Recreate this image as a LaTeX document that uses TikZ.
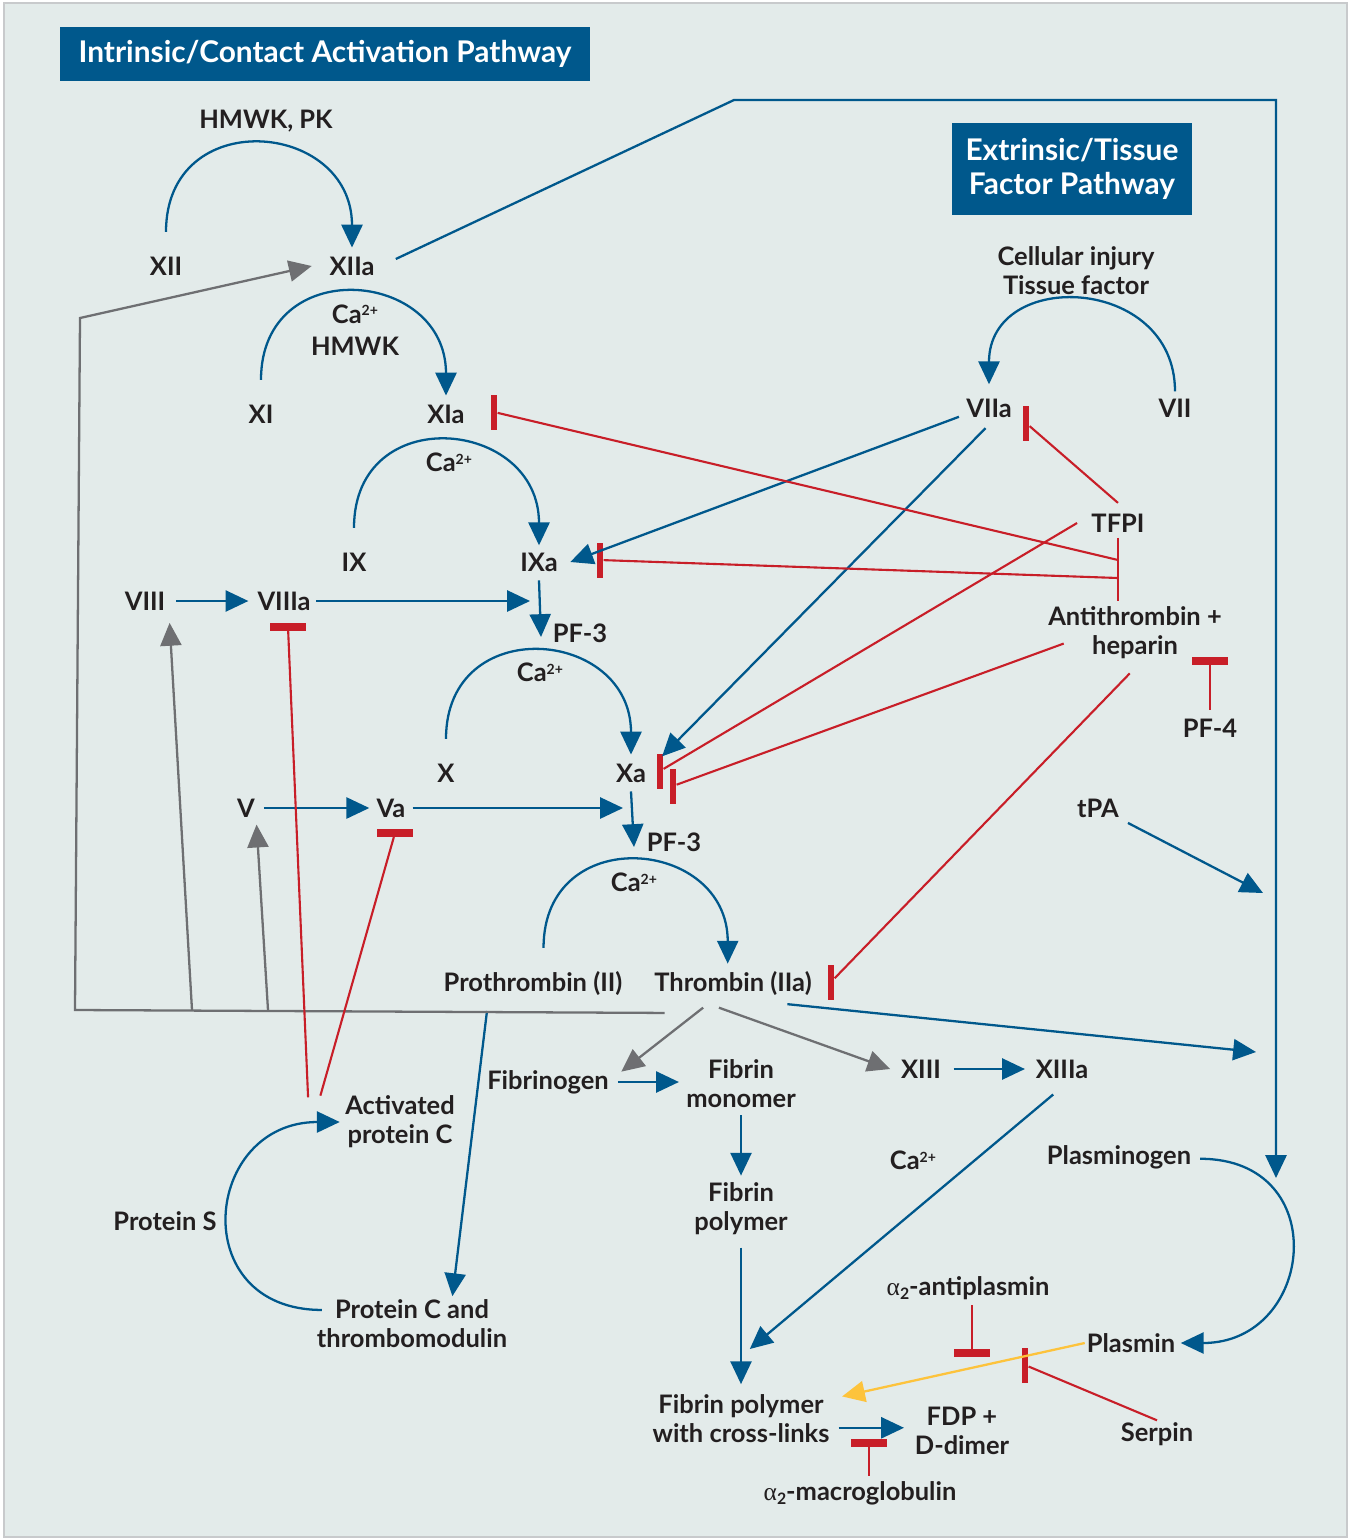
\documentclass[tikz,border=0pt]{standalone}
\usepackage{fontspec}
\setmainfont{Lato}
\newfontfamily\grkfont{Liberation Serif}
\usetikzlibrary{arrows.meta}

\definecolor{bgcol}{RGB}{227,235,234}
\definecolor{framecol}{RGB}{200,202,204}
\definecolor{cblue}{RGB}{0,88,140}
\definecolor{cred}{RGB}{200,30,40}
\definecolor{cgrey}{RGB}{110,111,114}
\definecolor{cyellow}{RGB}{253,195,60}
\definecolor{ctext}{RGB}{35,31,32}

\newcommand{\caion}{Ca\raisebox{0.55ex}{\fontsize{8}{8}\selectfont 2+}}
\newcommand{\alphatwo}{{\grkfont\mdseries α}\raisebox{-0.35ex}{\fontsize{9}{9}\selectfont 2}}

\begin{document}
\begin{tikzpicture}[
    x=0.02cm, y=-0.02cm,
    lbl/.style={font=\bfseries\fontsize{14.5}{16.4}\selectfont, text=ctext, align=center, inner sep=1pt},
    ttl/.style={fill=cblue, text=white, font=\bfseries\fontsize{17}{19.3}\selectfont, align=center, inner sep=0pt},
    act/.style={draw=cblue, line width=1.3pt, -{Triangle[length=13pt,width=12pt]}},
    fb/.style={draw=cgrey, line width=1.3pt, -{Triangle[length=13pt,width=12pt]}},
    lys/.style={draw=cyellow, line width=1.3pt, -{Triangle[length=13pt,width=12pt]}},
    inh/.style={draw=cred, line width=1.2pt},
    vbar/.style={fill=cred, inner sep=0pt, minimum width=0.13cm, minimum height=0.7cm},
    hbar/.style={fill=cred, inner sep=0pt, minimum width=0.72cm, minimum height=0.15cm}
  ]
  \useasboundingbox (0,0) rectangle (1352,1539);
  \fill[white] (0,0) rectangle (1352,1539);
  \draw[framecol, fill=bgcol, line width=0.8pt] (4,3) rectangle (1347,1537);

  \node[ttl, minimum width=10.6cm, minimum height=1.08cm] (titleIn) at (325,54) {Intrinsic/Contact Activation Pathway};
  \node[ttl, minimum width=4.8cm, minimum height=1.84cm] (titleEx) at (1072,169) {Extrinsic/Tissue\\Factor Pathway};

  % intrinsic cascade
  \node[lbl] (hmwkpk) at (266,121) {HMWK, PK};
  \node[lbl] (XII) at (166,266) {XII};
  \node[lbl] (XIIa) at (352,266) {XIIa};
  \node[lbl] (caA) at (355,330) {\caion\\[2pt]HMWK};
  \node[lbl] (XI) at (261,414) {XI};
  \node[lbl] (XIa) at (446,414) {XIa};
  \node[lbl] (caB) at (449,462) {\caion};
  \node[lbl] (IX) at (354,562) {IX};
  \node[lbl] (IXa) at (539,562) {IXa};
  \node[lbl] (VIII) at (145,601) {VIII};
  \node[lbl] (VIIIa) at (284,601) {VIIIa};
  \node[lbl] (pf3a) at (580,633) {PF-3};
  \node[lbl] (caC) at (540,672) {\caion};
  \node[lbl] (X) at (446,773) {X};
  \node[lbl] (Xa) at (631,773) {Xa};
  \node[lbl] (V) at (246,808) {V};
  \node[lbl] (Va) at (391,808) {Va};
  \node[lbl] (pf3b) at (674,842) {PF-3};
  \node[lbl] (caD) at (634,882) {\caion};
  \node[lbl] (PT) at (533,983) {Prothrombin (II)};
  \node[lbl] (TH) at (733,983) {Thrombin (IIa)};

  % extrinsic side and inhibitors
  \node[lbl] (injury) at (1076,271) {Cellular injury\\Tissue factor};
  \node[lbl] (VIIa) at (989,408) {VIIa};
  \node[lbl] (VII) at (1175,408) {VII};
  \node[lbl] (TFPI) at (1118,523) {TFPI};
  \node[lbl] (AT) at (1135,633) {Antithrombin +\\heparin};
  \node[lbl] (PF4) at (1210,728) {PF-4};
  \node[lbl] (tPA) at (1098,808) {tPA};

  % fibrin and fibrinolysis
  \node[lbl] (fbg) at (548,1082) {Fibrinogen};
  \node[lbl] (fmono) at (741,1084) {Fibrin\\monomer};
  \node[lbl] (XIII) at (921,1069) {XIII};
  \node[lbl] (XIIIa) at (1062,1069) {XIIIa};
  \node[lbl] (caE) at (913,1160) {\caion};
  \node[lbl] (plg) at (1119,1157) {Plasminogen};
  \node[lbl] (fpoly) at (741,1209) {Fibrin\\polymer};
  \node[lbl] (antipl) at (968,1288) {\alphatwo-antiplasmin};
  \node[lbl] (plm) at (1131,1343) {Plasmin};
  \node[lbl] (fcross) at (741,1419) {Fibrin polymer\\with cross-links};
  \node[lbl] (FDP) at (962,1431) {FDP +\\D-dimer};
  \node[lbl] (serpin) at (1157,1434) {Serpin};
  \node[lbl] (macro) at (860,1493) {\alphatwo-macroglobulin};

  % protein C
  \node[lbl] (apc) at (400,1122) {Activated\\protein C};
  \node[lbl] (protS) at (165,1221) {Protein S};
  \node[lbl] (protC) at (412,1324) {Protein C and\\thrombomodulin};

  % inhibition bars
  \node[vbar] (barXIa) at (494,412) {};
  \node[vbar] (barIXa) at (600,560) {};
  \node[vbar] (barXa) at (660,771) {};
  \node[vbar] (barXaB) at (673,786) {};
  \node[vbar] (barTh) at (831,982) {};
  \node[vbar] (barVIIa) at (1026,423) {};
  \node[vbar] (barPl) at (1025,1365) {};
  \node[hbar] (barVIIIa) at (288,627) {};
  \node[hbar] (barVa) at (395,833) {};
  \node[hbar] (barPF) at (1210,661) {};
  \node[hbar] (barAp) at (972,1353) {};
  \node[hbar] (barMg) at (869,1443) {};

  \coordinate (brA) at (1118,560);
  \coordinate (brB) at (1118,578);
  \coordinate (viiitip) at (530,601);
  \coordinate (ixtip) at (541,637);
  \coordinate (vatip) at (623,808);
  \coordinate (xatip) at (634,847);
  \coordinate (bA) at (734,100);
  \coordinate (bB) at (1276,100);
  \coordinate (plgtip) at (1276,1178);
  \coordinate (tpatip) at (1263,893);
  \coordinate (thtip) at (1256,1052);
  \coordinate (gA) at (75,1010);
  \coordinate (gB) at (80,318);
  \coordinate (g1) at (192,1010);
  \coordinate (g2) at (268,1010);
  \coordinate (g3) at (487,1011);

  % activation arcs
  \draw[act] ([yshift=13pt]XII.north) to[out=90,in=90,looseness=1.75] ([yshift=4pt]XIIa.north);
  \draw[act] ([yshift=13pt]XI.north) to[out=90,in=90,looseness=1.75] ([yshift=4pt]XIa.north);
  \draw[act] ([yshift=13pt]IX.north) to[out=90,in=90,looseness=1.75] ([yshift=3pt]IXa.north);
  \draw[act] ([yshift=13pt]X.north) to[out=90,in=90,looseness=1.75] ([yshift=4pt]Xa.north);
  \draw[act] ([shift={(6pt,12pt)}]PT.north) to[out=90,in=90,looseness=1.75] ([shift={(-3pt,3pt)}]TH.north);
  \draw[act] ([yshift=3pt]VII.north) to[out=90,in=90,looseness=1.6] ([yshift=7pt]VIIa.north);
  \draw[act] ([shift={(4pt,-1pt)}]plg.east) to[out=0,in=0,looseness=1.85] ([xshift=2pt]plm.east);
  \draw[act] ([shift={(4pt,8pt)}]protC.west) to[out=180,in=180,looseness=1.85] ([xshift=-2pt]apc.west);

  % straight activations
  \draw[act] ([xshift=5pt]VIII.east) -- ([xshift=-4pt]VIIIa.west);
  \draw[act] ([xshift=2pt]VIIIa.east) -- (viiitip);
  \draw[act] ([yshift=-4pt]IXa.south) -- (ixtip);
  \draw[act] ([xshift=4pt]V.east) -- ([xshift=-3pt]Va.west);
  \draw[act] ([xshift=3pt]Va.east) -- (vatip);
  \draw[act] ([yshift=-4pt]Xa.south) -- (xatip);
  \draw[act] ([shift={(-3pt,-5pt)}]VIIa.west) -- ([xshift=6pt]IXa.east);
  \draw[act] ([shift={(-2pt,-5pt)}]VIIa.south) -- ([shift={(8pt,3pt)}]Xa.north east);
  \draw[act] ([shift={(11pt,4pt)}]XIIa.east) -- (bA) -- (bB) -- (plgtip);
  \draw[act] ([shift={(4pt,-2pt)}]tPA.south east) -- (tpatip);
  \draw[act] ([shift={(-15pt,-4pt)}]TH.south east) -- (thtip);
  \draw[act] (g3) -- ([shift={(23pt,1pt)}]protC.north);
  \draw[act, shorten <=4pt, shorten >=3pt] (fbg.east) -- (fbg.east -| fmono.west);
  \draw[act] ([yshift=-3pt]fmono.south) -- ([yshift=3pt]fpoly.north);
  \draw[act] ([yshift=-6pt]fpoly.south) -- ([yshift=5pt]fcross.north);
  \draw[act] ([xshift=6pt]XIII.east) -- ([xshift=-5pt]XIIIa.west);
  \draw[act] ([shift={(-5pt,-8pt)}]XIIIa.south) -- ([shift={(5pt,25pt)}]fcross.north);
  \draw[act, shorten <=4pt, shorten >=5pt] ([yshift=-5pt]fcross.east) -- ([yshift=-5pt]fcross.east -| FDP.west);
  \draw[lys] (plm.west) -- ([shift={(6pt,-2pt)}]fcross.north east);

  % thrombin feedback
  \draw[fb] ([shift={(7pt,-9pt)}]TH.south west) -- (gA) -- (gB) -- ([xshift=-9pt]XIIa.west);
  \draw[fb] (g1) -- ([shift={(14pt,-6pt)}]VIII.south);
  \draw[fb] (g2) -- ([shift={(6pt,-3pt)}]V.south);
  \draw[fb] ([shift={(-17pt,-6pt)}]TH.south) -- ([shift={(6pt,-2pt)}]fbg.north east);
  \draw[fb] ([shift={(-8pt,-6pt)}]TH.south) -- ([xshift=-5pt]XIII.west);

  % inhibitions
  \draw[inh, shorten <=2pt, shorten >=2pt] (TFPI.south) -- (TFPI.south |- AT.north);
  \draw[inh] (brA) -- (barXIa);
  \draw[inh] (brB) -- (barIXa);
  \draw[inh] ([yshift=5pt]TFPI.north) -- (barVIIa);
  \draw[inh] ([xshift=-7pt]TFPI.west) -- (barXa);
  \draw[inh] ([shift={(10pt,-6pt)}]AT.west) -- (barXaB);
  \draw[inh] ([shift={(-3pt,-7pt)}]AT.south) -- (barTh);
  \draw[inh] ([yshift=4pt]PF4.north) -- (barPF);
  \draw[inh] ([shift={(-20pt,-2pt)}]apc.north west) -- (barVIIIa);
  \draw[inh] ([shift={(-13pt,-1pt)}]apc.north west) -- (barVa);
  \draw[inh] (serpin.north) -- (barPl);
  \draw[inh] ([yshift=-2pt]barAp |- antipl.south) -- (barAp);
  \draw[inh] ([yshift=2pt]barMg |- macro.north) -- (barMg);
\end{tikzpicture}
\end{document}
